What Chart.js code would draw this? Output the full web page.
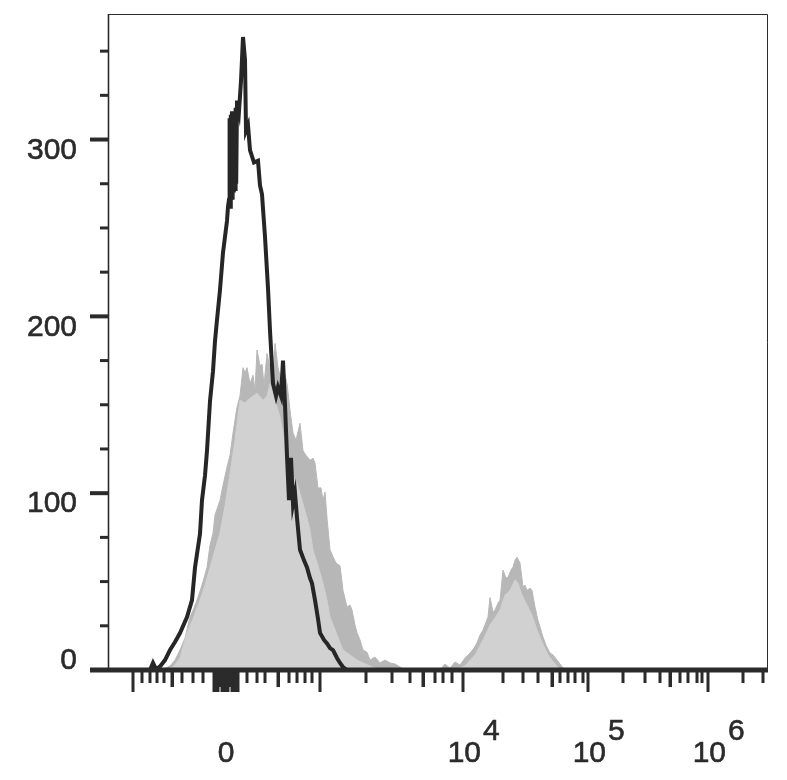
<!DOCTYPE html>
<html>
<head>
<meta charset="utf-8">
<script src="https://cdn.jsdelivr.net/npm/chart.js@4.4.1/dist/chart.umd.min.js"></script>
<style>
  html, body { margin: 0; padding: 0; background: #ffffff; }
  #wrap { width: 787px; height: 780px; position: relative; }
</style>
</head>
<body>
<div id="wrap"><canvas id="c" width="787" height="780"></canvas></div>
<script>
// x values are positions on the (biexponential) display axis, 0..660 channel units
const stainedX = [0, 32, 42, 45, 48, 52, 57, 62, 67, 72, 79, 84, 87, 92, 94, 97, 99, 102, 105, 107, 109, 112, 115, 119, 120, 121, 121.6, 122.2, 122.8, 123.4, 124, 124.6, 125.2, 125.8, 126.4, 127, 127.6, 128.2, 129, 131, 133, 135, 137, 138, 140, 142, 146, 150, 152, 154, 157, 160, 162, 165, 168, 170, 173, 175, 177, 179, 181, 183, 185, 187, 189, 192, 196, 199, 202, 204, 207, 210, 212, 216, 219, 222, 225, 229, 232, 235, 239, 660];
const stainedY = [0, 0, 0, 4, 0.5, 2, 5.6, 11.3, 15.8, 20.9, 29.9, 39.5, 58, 77, 96, 110, 124, 152, 169, 186, 198, 215, 236, 254, 262, 266, 312, 262, 314, 268, 316, 266, 315, 270, 313, 272, 318, 275, 322, 316, 333, 358, 345, 305, 308, 294, 287, 288, 274, 269, 245, 216, 192, 162, 155, 160, 155, 175, 150, 121, 96, 120, 94, 100, 86, 68, 62, 58, 52, 49, 39.5, 29, 21, 17, 15, 12.4, 11.3, 6.8, 4, 1.7, 0, 0];

const controlRawX = [0, 42, 57, 62, 67, 72, 77, 82, 86, 89, 94, 99, 102, 105, 107, 112, 115, 119, 122, 125, 129, 132, 135, 137, 139, 142, 145, 147, 149, 152, 154, 156, 159, 162, 165, 167, 170, 173, 175, 177, 179, 182, 185, 188, 192, 195, 198, 202, 205, 207, 210, 213, 215, 217, 219, 222, 225, 228, 232, 235, 239, 242, 244, 247, 249, 252, 255, 259, 262, 267, 272, 277, 282, 287, 292, 297, 312, 332, 337, 342, 347, 352, 357, 362, 366, 369, 372, 375, 378, 380, 382, 385, 387, 390, 392, 395, 398, 400, 403, 405, 407, 409, 412, 415, 417, 419, 422, 424, 427, 430, 432, 435, 438, 442, 445, 449, 452, 455, 458, 660];
const controlRawY = [0, 0, 1, 2.3, 5.6, 11.3, 18, 30, 35, 39.5, 48, 58, 70.6, 77.4, 87.6, 96, 104.5, 114.7, 121.5, 134, 148.6, 155, 171, 168, 171, 162, 166.7, 158, 181, 172, 173, 161, 179, 171, 164, 184.7, 171, 164, 171, 166.7, 162, 147, 134, 130, 139.5, 124, 121.5, 118.6, 119.8, 117, 103, 103, 96, 100.6, 86, 68, 64, 60.5, 59, 45, 35.6, 36.7, 34, 25.4, 21, 17, 11.3, 10, 5.6, 7.3, 4, 5.6, 4, 3.4, 1.7, 0, 0, 0, 3.4, 1, 4.5, 2.8, 6.8, 9.6, 12.4, 15.3, 19.8, 22.6, 27, 30, 41, 32.8, 33.9, 37.9, 39.5, 56.5, 52, 52.5, 56.5, 58.2, 62, 63.8, 60.5, 47, 48, 45, 46.3, 45, 35.6, 28, 24.3, 18.6, 14, 9.6, 8.5, 5.6, 3.4, 1.1, 0, 0];

const controlCoreX = [0, 57, 65, 72, 79, 85, 92, 97, 102, 107, 112, 117, 122, 127, 132, 137, 142, 149, 155, 159, 162, 167, 172, 176, 179, 184, 189, 194, 199, 202, 205, 210, 215, 219, 222, 229, 235, 242, 249, 255, 264, 272, 347, 357, 367, 375, 382, 387, 392, 397, 402, 407, 410, 414, 419, 424, 429, 434, 440, 447, 452, 660];
const controlCoreY = [0, 0, 1.7, 6.8, 21, 29, 39.5, 48, 58, 68, 77.4, 93, 111, 130, 152.5, 151, 153.7, 156.5, 152.5, 155, 162, 152.5, 143, 130, 114.7, 110, 105.6, 96, 86, 79, 67.8, 59, 49, 39.5, 30, 19.8, 11.3, 8.5, 5.6, 4, 1.7, 0, 0, 2.3, 8.5, 17, 25.4, 29.4, 34, 42.4, 45, 51, 49, 42.4, 36.7, 31, 22.6, 15.8, 8.5, 3.4, 0, 0];

const yMajorTicks = [0, 100, 200, 300];
const yMinorTicks = [25, 50, 75, 125, 150, 175, 225, 250, 275, 325, 350];
const yTickLabels = ['0', '100', '200', '300'];

const xMajorTicks = [25, 106, 108, 110, 114, 116, 118, 120, 124, 126, 128, 130, 212, 355, 480, 600];
const xMediumTicks = [64, 112, 122, 170, 315, 444, 562];
const xMinorTicks = [34, 42, 49, 56, 74, 85, 95, 139, 149, 157, 181, 189, 197, 204, 258, 284, 302, 327, 335, 344, 395, 415, 430, 452, 460, 467, 475, 515, 537, 552, 572, 580, 589, 594, 635, 655];
const xZeroLabel = { value: 118, text: '0' };
const xDecadeLabels = [{ value: 355, exp: '4' }, { value: 480, exp: '5' }, { value: 600, exp: '6' }];

function pts(xs, ys) { return xs.map((x, i) => ({ x: x, y: ys[i] })); }

const INK = '#2b2b2b';
const FONT = '30px "Liberation Sans", Arial, sans-serif';

function label(ctx, txt, x, y) {
  ctx.fillText(txt, x, y);
  ctx.strokeText(txt, x, y);
}

const axesPlugin = {
  id: 'flowAxes',
  afterDraw(chart) {
    const ctx = chart.ctx;
    const xs = chart.scales.x, ys = chart.scales.y;
    const a = chart.chartArea;
    ctx.save();
    // frame
    ctx.strokeStyle = INK;
    ctx.lineWidth = 1;
    ctx.beginPath();
    ctx.moveTo(a.left + 0.5, a.bottom);
    ctx.lineTo(a.left + 0.5, a.top + 0.5);
    ctx.lineTo(a.right - 0.5, a.top + 0.5);
    ctx.lineTo(a.right - 0.5, a.bottom);
    ctx.stroke();
    ctx.lineWidth = 1.6;
    ctx.beginPath();
    ctx.moveTo(a.left + 0.5, a.bottom);
    ctx.lineTo(a.left + 0.5, a.top);
    ctx.stroke();
    // thick x axis line
    const base = ys.getPixelForValue(0);
    ctx.fillStyle = INK;
    ctx.fillRect(a.left - 18, base - 2.5, a.right - a.left + 18, 5);
    // y ticks
    yMajorTicks.forEach(v => {
      const p = ys.getPixelForValue(v);
      ctx.fillRect(a.left - 18, p - 2, 18, 4);
    });
    yMinorTicks.forEach(v => {
      const p = ys.getPixelForValue(v);
      ctx.fillRect(a.left - 8, p - 1.5, 8, 3);
    });
    // x ticks
    const t0 = base + 2;
    xMinorTicks.forEach(v => { const p = xs.getPixelForValue(v); ctx.fillRect(p - 1.5, t0, 3, 11); });
    xMediumTicks.forEach(v => { const p = xs.getPixelForValue(v); ctx.fillRect(p - 1.5, t0, 3.5, 15); });
    xMajorTicks.forEach(v => { const p = xs.getPixelForValue(v); ctx.fillRect(p - 1.5, t0, 3, 20); });
    // y labels
    ctx.font = FONT;
    ctx.fillStyle = INK;
    ctx.strokeStyle = INK;
    ctx.lineWidth = 0.6;
    ctx.textAlign = 'right';
    ctx.textBaseline = 'middle';
    yMajorTicks.forEach((v, i) => {
      const p = ys.getPixelForValue(v);
      const off = v === 0 ? -9 : 11;
      label(ctx, yTickLabels[i], 77, p + off);
    });
    // x labels
    ctx.textBaseline = 'alphabetic';
    ctx.textAlign = 'center';
    label(ctx, xZeroLabel.text, xs.getPixelForValue(xZeroLabel.value), 762);
    xDecadeLabels.forEach(d => {
      const p = xs.getPixelForValue(d.value);
      ctx.textAlign = 'right';
      label(ctx, '10', p + 18, 762);
      ctx.textAlign = 'left';
      label(ctx, d.exp, p + 20, 740);
    });
    ctx.restore();
  }
};

new Chart(document.getElementById('c'), {
  type: 'line',
  data: {
    datasets: [
      { label: 'stained', data: pts(stainedX, stainedY), borderColor: '#262626', borderWidth: 4, borderJoinStyle: 'miter', fill: false, pointRadius: 0, tension: 0 },
      { label: 'control core', data: pts(controlCoreX, controlCoreY), borderColor: '#d1d1d1', backgroundColor: '#d1d1d1', borderWidth: 1, fill: 'origin', pointRadius: 0, tension: 0 },
      { label: 'control', data: pts(controlRawX, controlRawY), borderColor: '#b7b7b7', backgroundColor: '#b7b7b7', borderWidth: 1, fill: 'origin', pointRadius: 0, tension: 0 }
    ]
  },
  options: {
    responsive: false,
    animation: false,
    layout: { padding: { left: 108, right: 19, top: 14, bottom: 110 } },
    plugins: { legend: { display: false }, tooltip: { enabled: false } },
    scales: {
      x: { type: 'linear', min: 0, max: 660, display: false },
      y: { type: 'linear', min: 0, max: 371, display: false }
    }
  },
  plugins: [axesPlugin]
});
</script>
</body>
</html>
